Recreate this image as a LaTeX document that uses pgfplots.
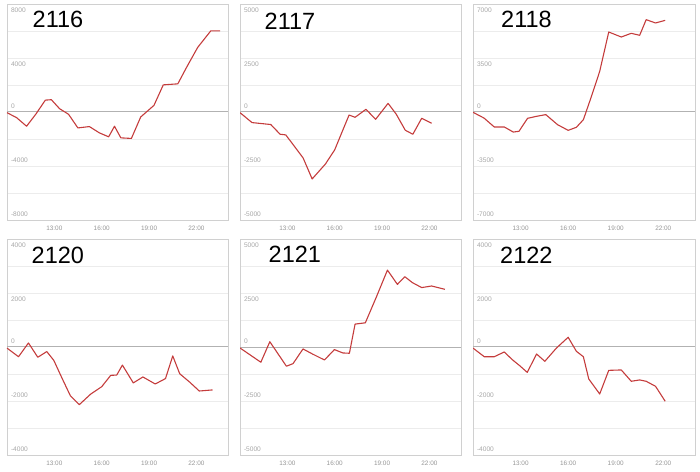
\documentclass[border=0pt]{standalone}
\usepackage{fontspec}
\setmainfont{Liberation Sans}
\usepackage{pgfplots}
\pgfplotsset{compat=1.18}
\definecolor{linered}{RGB}{196,60,60}
\definecolor{framegray}{RGB}{208,208,208}
\definecolor{gridgray}{RGB}{236,236,236}
\definecolor{zerogray}{RGB}{178,178,178}
\definecolor{labgray}{RGB}{150,150,150}
\tikzset{zeroline/.style={draw=zerogray, line width=1pt}}
\pgfplotsset{
  panel/.style={
    scale only axis, width=221pt, height=216pt, anchor=north west,
    xmin=10, xmax=24, xtick={13,16,19,22}, xticklabels={13:00,16:00,19:00,22:00},
    axis line style={draw=framegray, line width=0.8pt},
    major tick length=0pt, minor tick length=0pt,
    tick style={draw=none},
    xticklabel style={font=\fontsize{6.4}{7}\selectfont, text=labgray, yshift=-2.5pt},
    yticklabel style={font=\fontsize{6.6}{7}\selectfont, text=labgray!85, anchor=west, xshift=0.5pt},
    yminorgrids=true, ymajorgrids=false,
    minor grid style={draw=gridgray, line width=0.6pt},
    cycle list={{draw=linered, no marks}},
    every axis plot post/.append style={line width=1.1pt, line join=round},
  },
}
\begin{document}
\begin{tikzpicture}[x=1pt,y=1pt]
\path[use as bounding box] (0,0) rectangle (700,471);

% 2116
\begin{axis}[panel, at={(7pt,467pt)}, ymin=-8000, ymax=8000,
  ytick={7540,3540,460,-3540,-7540}, yticklabels={8000,4000,0,-4000,-8000},
  minor ytick={-6000,-4000,-2000,2000,4000,6000}]
\draw[zeroline] (axis cs:10,0) -- (axis cs:24,0);
\addplot coordinates {(10.0,-50) (10.61,-420) (11.24,-1055) (11.82,-170) (12.43,880) (12.81,910) (13.33,245) (13.90,-170) (14.49,-1180) (15.22,-1080) (15.85,-1545) (16.44,-1840) (16.81,-1055) (17.21,-1915) (17.88,-1960) (18.47,-370) (19.31,490) (19.90,2010) (20.82,2085) (21.40,3360) (22.08,4785) (22.91,6010) (23.50,6010)};
\end{axis}

% 2117
\begin{axis}[panel, at={(240pt,467pt)}, ymin=-5000, ymax=5000,
  ytick={4715,2215,285,-2215,-4715}, yticklabels={5000,2500,0,-2500,-5000},
  minor ytick={-3750,-2500,-1250,1250,2500,3750}]
\draw[zeroline] (axis cs:10,0) -- (axis cs:24,0);
\addplot coordinates {(10.0,-30) (10.76,-490) (11.95,-580) (12.54,-1030) (12.90,-1060) (13.42,-1565) (14.00,-2130) (14.57,-3100) (15.41,-2410) (16.0,-1750) (16.45,-950) (16.91,-140) (17.29,-245) (17.98,125) (18.59,-340) (19.38,400) (19.90,-105) (20.47,-845) (20.95,-1030) (21.51,-290) (22.14,-520)};
\end{axis}

% 2118
\begin{axis}[panel, at={(473pt,467pt)}, width=222pt, ymin=-7000, ymax=7000,
  ytick={6600,3100,400,-3100,-6600}, yticklabels={7000,3500,0,-3500,-7000},
  minor ytick={-5250,-3500,-1750,1750,3500,5250}]
\draw[zeroline] (axis cs:10,0) -- (axis cs:24,0);
\addplot coordinates {(10.0,-20) (10.69,-390) (11.34,-970) (11.97,-970) (12.54,-1300) (12.90,-1250) (13.44,-410) (14.01,-280) (14.59,-170) (15.33,-820) (16.0,-1190) (16.52,-990) (16.96,-500) (17.47,1015) (17.99,2635) (18.56,5185) (19.35,4860) (19.98,5100) (20.51,4970) (20.92,5985) (21.51,5770) (22.12,5940)};
\end{axis}

% 2120
\begin{axis}[panel, at={(7pt,232pt)}, ymin=-4000, ymax=4000,
  ytick={3772,1772,228,-1772,-3772}, yticklabels={4000,2000,0,-2000,-4000},
  minor ytick={-3000,-2000,-1000,1000,2000,3000}]
\draw[zeroline] (axis cs:10,0) -- (axis cs:24,0);
\addplot coordinates {(10.0,-40) (10.73,-360) (11.36,150) (11.95,-380) (12.52,-170) (12.96,-490) (13.53,-1210) (14.01,-1800) (14.58,-2135) (15.31,-1740) (16.0,-1470) (16.57,-1050) (16.95,-1040) (17.31,-670) (18.0,-1330) (18.61,-1110) (19.39,-1370) (20.04,-1170) (20.50,-330) (20.94,-990) (21.57,-1300) (22.18,-1630) (23.02,-1590)};
\end{axis}

% 2121
\begin{axis}[panel, at={(240pt,232pt)}, ymin=-5000, ymax=5000,
  ytick={4715,2215,285,-2215,-4715}, yticklabels={5000,2500,0,-2500,-5000},
  minor ytick={-3750,-2500,-1250,1250,2500,3750}]
\draw[zeroline] (axis cs:10,0) -- (axis cs:24,0);
\addplot coordinates {(10.0,-45) (11.32,-705) (11.89,245) (12.94,-890) (13.36,-770) (13.99,-90) (14.58,-320) (15.35,-600) (15.98,-120) (16.51,-275) (16.93,-290) (17.29,1060) (17.94,1120) (18.65,2335) (19.34,3560) (19.97,2900) (20.44,3255) (20.92,2980) (21.51,2750) (22.14,2825) (22.98,2670)};
\end{axis}

% 2122
\begin{axis}[panel, at={(473pt,232pt)}, width=222pt, ymin=-4000, ymax=4000,
  ytick={3772,1772,228,-1772,-3772}, yticklabels={4000,2000,0,-2000,-4000},
  minor ytick={-3000,-2000,-1000,1000,2000,3000}]
\draw[zeroline] (axis cs:10,0) -- (axis cs:24,0);
\addplot coordinates {(10.0,-40) (10.71,-360) (11.34,-360) (11.97,-185) (12.48,-470) (12.96,-700) (13.42,-940) (14.01,-260) (14.53,-530) (15.26,-40) (16.0,360) (16.52,-160) (16.96,-360) (17.30,-1185) (17.99,-1740) (18.56,-865) (19.35,-850) (19.98,-1270) (20.51,-1220) (20.92,-1270) (21.51,-1455) (22.12,-2010)};
\end{axis}

% titles
\begin{scope}[every node/.style={anchor=base west, inner sep=0pt, font=\fontsize{23.5}{24}\selectfont}]
\node at (32.5,443.5) {2116};
\node at (264.5,441.7) {2117};
\node at (501,443.7) {2118};
\node at (31.5,207) {2120};
\node at (268.5,208) {2121};
\node at (500,207) {2122};
\end{scope}
\end{tikzpicture}
\end{document}
